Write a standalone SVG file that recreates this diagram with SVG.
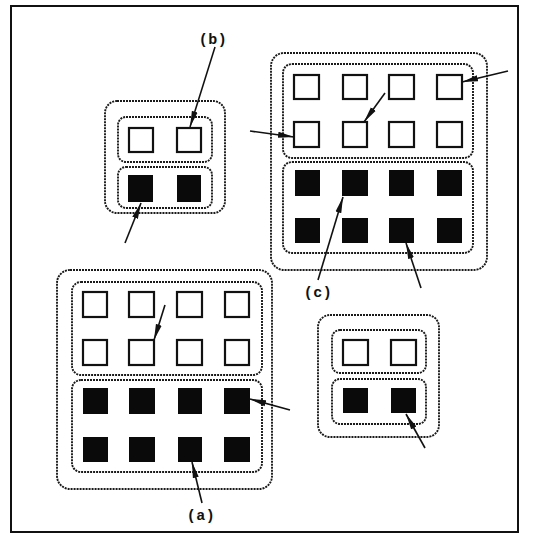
<svg xmlns="http://www.w3.org/2000/svg" width="533" height="535" viewBox="0 0 533 535">
<defs>
<style>
.frame{fill:none;stroke:#111;stroke-width:2}
.dot{fill:none;stroke:#1a1a1a;stroke-width:1.9;stroke-dasharray:2 1}
.open{fill:#fff;stroke:#111;stroke-width:2.2}
.fill{fill:#0a0a0a;stroke:none}
.conn line{stroke:#111;stroke-width:1.6;marker-end:url(#ah)}
.lbl{font-family:"Liberation Mono",monospace;font-size:15px;font-weight:bold;fill:#111;letter-spacing:0.5px}
</style>
<marker id="ah" viewBox="0 0 16 7" refX="16" refY="3.5" markerWidth="16" markerHeight="7" markerUnits="userSpaceOnUse" orient="auto">
<path d="M0,0.5 L16,3.5 L0,6.5 z" fill="#111"/>
</marker>
</defs>
<rect width="533" height="535" fill="#fff"/>
<rect class="frame" x="11" y="6" width="507" height="526"/>

<g id="group-b">
<rect class="dot" x="105" y="101" width="120" height="112" rx="12"/>
<rect class="dot" x="118" y="117" width="94" height="45" rx="8"/>
<rect class="dot" x="118" y="167" width="94" height="41" rx="8"/>
<rect class="open" x="129" y="128" width="24" height="24"/>
<rect class="open" x="177" y="128" width="24" height="24"/>
<rect class="fill" x="128" y="175" width="25" height="27"/>
<rect class="fill" x="177" y="175" width="24" height="27"/>
</g>

<g id="group-c">
<rect class="dot" x="271" y="53" width="216" height="217" rx="13"/>
<rect class="dot" x="283" y="64" width="190" height="94" rx="9"/>
<rect class="dot" x="283" y="162" width="190" height="91" rx="9"/>
<rect class="open" x="294" y="75" width="25" height="24"/>
<rect class="open" x="343" y="75" width="24" height="24"/>
<rect class="open" x="389" y="75" width="25" height="24"/>
<rect class="open" x="437" y="75" width="25" height="24"/>
<rect class="open" x="294" y="122" width="25" height="25"/>
<rect class="open" x="343" y="122" width="24" height="25"/>
<rect class="open" x="389" y="122" width="25" height="25"/>
<rect class="open" x="437" y="122" width="25" height="25"/>
<rect class="fill" x="295" y="170" width="25" height="26"/>
<rect class="fill" x="342" y="170" width="26" height="26"/>
<rect class="fill" x="389" y="170" width="25" height="26"/>
<rect class="fill" x="437" y="170" width="25" height="26"/>
<rect class="fill" x="295" y="218" width="25" height="25"/>
<rect class="fill" x="342" y="218" width="26" height="25"/>
<rect class="fill" x="389" y="218" width="25" height="25"/>
<rect class="fill" x="437" y="218" width="25" height="25"/>
</g>

<g id="group-a">
<rect class="dot" x="57" y="270" width="215" height="219" rx="13"/>
<rect class="dot" x="72" y="282" width="190" height="93" rx="9"/>
<rect class="dot" x="72" y="380" width="190" height="92" rx="9"/>
<rect class="open" x="83" y="292" width="24" height="25"/>
<rect class="open" x="129" y="292" width="25" height="25"/>
<rect class="open" x="177" y="292" width="25" height="25"/>
<rect class="open" x="225" y="292" width="24" height="25"/>
<rect class="open" x="83" y="340" width="24" height="25"/>
<rect class="open" x="129" y="340" width="25" height="25"/>
<rect class="open" x="177" y="340" width="25" height="25"/>
<rect class="open" x="225" y="340" width="24" height="25"/>
<rect class="fill" x="83" y="388" width="25" height="26"/>
<rect class="fill" x="129" y="388" width="26" height="26"/>
<rect class="fill" x="178" y="388" width="24" height="26"/>
<rect class="fill" x="224" y="388" width="26" height="26"/>
<rect class="fill" x="83" y="437" width="25" height="25"/>
<rect class="fill" x="129" y="437" width="26" height="25"/>
<rect class="fill" x="178" y="437" width="24" height="25"/>
<rect class="fill" x="224" y="437" width="26" height="25"/>
</g>

<g id="group-d">
<rect class="dot" x="318" y="315" width="121" height="122" rx="12"/>
<rect class="dot" x="332" y="330" width="94" height="43" rx="8"/>
<rect class="dot" x="332" y="379" width="94" height="45" rx="8"/>
<rect class="open" x="343" y="340" width="25" height="25"/>
<rect class="open" x="391" y="340" width="25" height="25"/>
<rect class="fill" x="343" y="388" width="25" height="25"/>
<rect class="fill" x="391" y="388" width="25" height="25"/>
</g>

<g id="connectors" class="conn">
<line x1="215" y1="47" x2="190" y2="127"/>
<line x1="125" y1="243" x2="141" y2="203"/>
<line x1="508" y1="71" x2="462" y2="82"/>
<line x1="385" y1="93" x2="364" y2="122"/>
<line x1="250" y1="131" x2="294" y2="137"/>
<line x1="318" y1="280" x2="343" y2="197"/>
<line x1="421" y1="288" x2="406" y2="243"/>
<line x1="165" y1="305" x2="154" y2="340"/>
<line x1="290" y1="410" x2="250" y2="399"/>
<line x1="202" y1="503" x2="192" y2="462"/>
<line x1="425" y1="448" x2="406" y2="414"/>
</g>

<g id="labels">
<text class="lbl" x="213" y="44" text-anchor="middle">(b)</text>
<text class="lbl" x="318" y="297" text-anchor="middle">(c)</text>
<text class="lbl" x="201" y="520" text-anchor="middle">(a)</text>
</g>
</svg>
